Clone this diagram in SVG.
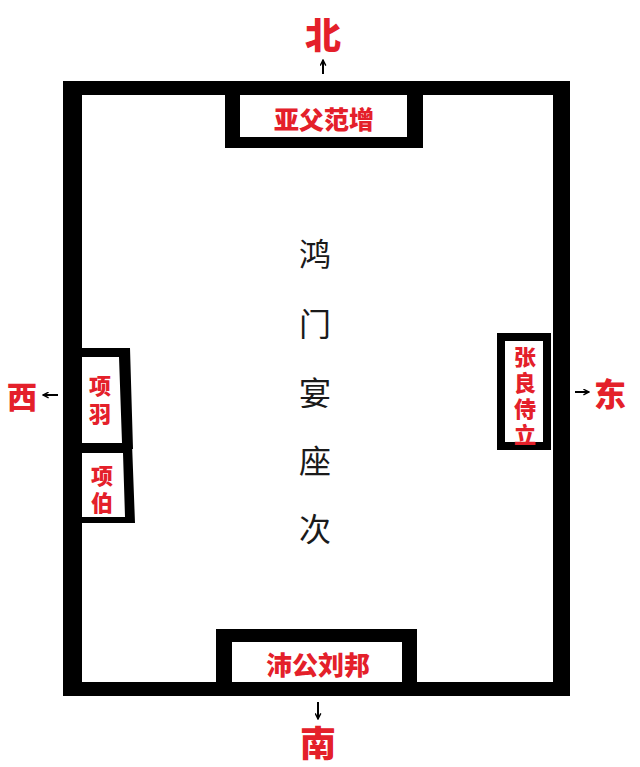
<svg xmlns="http://www.w3.org/2000/svg" width="640" height="767" viewBox="0 0 640 767">
<style>
.wall{fill:#000;fill-rule:evenodd}
.lbl{font-family:"Noto Sans CJK SC","Noto Sans CJK JP",sans-serif;font-weight:900;fill:#e4202a;text-anchor:middle;dominant-baseline:central}
.vlbl{font-family:"Noto Sans CJK SC","Noto Sans CJK JP",sans-serif;font-weight:900;fill:#e4202a;text-anchor:middle;writing-mode:vertical-rl;font-size:22px}
.title{font-family:"Noto Sans CJK SC","Noto Sans CJK JP",sans-serif;font-weight:400;fill:#1a1a1a;text-anchor:middle;dominant-baseline:central;font-size:32px}
.arr{stroke:#000;stroke-width:2;fill:none}
</style>
<defs>
<marker id="ah" viewBox="0 0 10 10" refX="9" refY="5" markerWidth="7" markerHeight="7" markerUnits="userSpaceOnUse" orient="auto">
<path d="M1 1 L9 5 L1 9" fill="none" stroke="#000" stroke-width="2"/>
</marker>
</defs>
<rect width="640" height="767" fill="#fff"/>
<g id="hall">
<path class="wall" d="M63 81 H570 V696 H63 Z M82 95 H553 V682 H82 Z"/>
<g class="title">
<text x="315" y="252">鸿</text>
<text x="315" y="322">门</text>
<text x="315" y="391">宴</text>
<text x="315" y="459">座</text>
<text x="315" y="527">次</text>
</g>
</g>
<g id="fanzeng">
<path class="wall" d="M225 81 H423 V148 H225 Z M240 94 H407 V137 H240 Z"/>
<text class="lbl" x="324" y="118" font-size="25">亚父范增</text>
</g>
<g id="liubang">
<path class="wall" d="M216 629 H417 V696 H216 Z M232 642 H402 V682 H232 Z"/>
<text class="lbl" x="318" y="663" font-size="26">沛公刘邦</text>
</g>
<g id="xiangyu">
<path class="wall" d="M81 348 L130 348 L133 449 L81 449 Z M81 357 L119 357 L122 443 L81 443 Z"/>
<text class="vlbl" x="100" y="403" letter-spacing="6">项羽</text>
</g>
<g id="xiangbo">
<path class="wall" d="M81 443 L132 443 L135 523 L81 523 Z M81 453 L123 453 L125 517 L81 517 Z"/>
<text class="vlbl" x="102" y="492" letter-spacing="5">项伯</text>
</g>
<g id="zhangliang">
<rect x="501" y="337" width="46" height="109" fill="none" stroke="#000" stroke-width="8"/>
<text class="vlbl" x="525" y="398" letter-spacing="4">张良侍立</text>
</g>
<g id="north"><text class="lbl" x="323" y="33" font-size="36">北</text></g>
<g id="south"><text class="lbl" x="318" y="741" font-size="36">南</text></g>
<g id="west"><text class="lbl" x="22" y="395" font-size="30">西</text></g>
<g id="east"><text class="lbl" x="610" y="392" font-size="32">东</text></g>
<g id="connectors">
<line class="arr" x1="323" y1="74" x2="323" y2="60" marker-end="url(#ah)"/>
<line class="arr" x1="318" y1="702" x2="318" y2="719" marker-end="url(#ah)"/>
<line class="arr" x1="58" y1="395" x2="43" y2="395" marker-end="url(#ah)"/>
<line class="arr" x1="575" y1="392" x2="589" y2="392" marker-end="url(#ah)"/>
</g>
</svg>
